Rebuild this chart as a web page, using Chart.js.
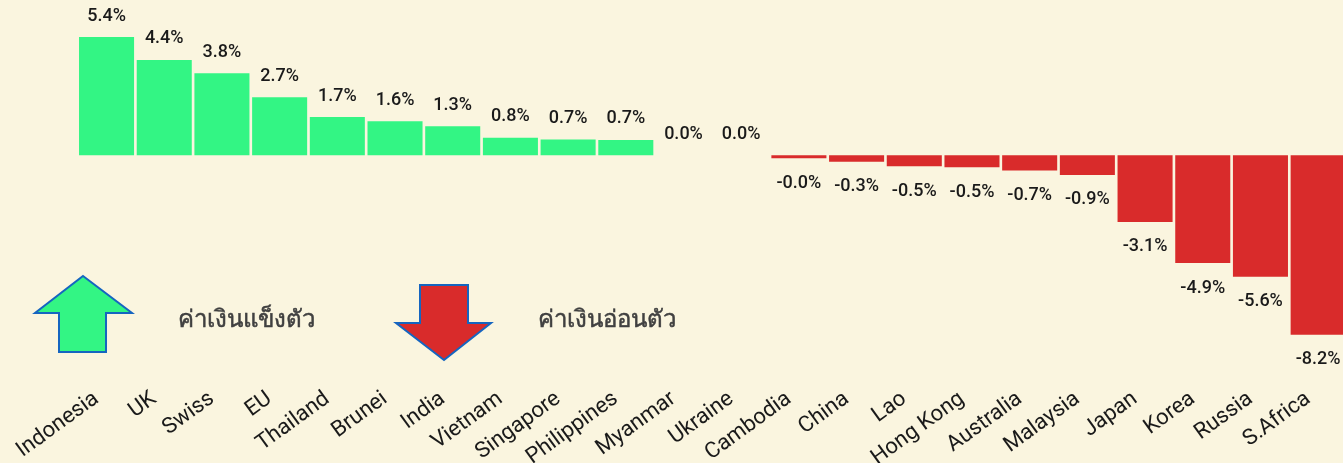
<!DOCTYPE html>
<html><head><meta charset="utf-8">
<script src="https://cdn.jsdelivr.net/npm/chart.js@4"></script>
<style>
html,body{margin:0;padding:0;background:#FAF5DF;overflow:hidden;width:1343px;height:463px}
#wrap{position:relative;width:1343px;height:463px;overflow:hidden}
canvas{position:absolute;left:0;top:0}
svg{position:absolute;left:0;top:0}
.t{position:absolute;top:300px;font:400 24px "Noto Sans","Noto Sans CJK SC",sans-serif;-webkit-text-stroke:0.5px #404040;color:#404040;white-space:nowrap;line-height:36px}
</style></head><body>
<div id="wrap">
<canvas id="c" width="1347" height="463"></canvas>
<svg width="1343" height="463">
<polygon points="83,276 132,313 106,313 106,352 59,352 59,313 35,313" fill="#33F584" stroke="#1565C0" stroke-width="2"/>
<polygon points="444,360 396,323 420,323 420,285 468,285 468,323 491,323" fill="#D92B2B" stroke="#1565C0" stroke-width="2"/>
</svg>
<div class="t" style="left:178px">ค่าเงินแข็งตัว</div>
<div class="t" style="left:538px">ค่าเงินอ่อนตัว</div>
</div>
<script>
const categories = ["Indonesia","UK","Swiss","EU","Thailand","Brunei","India","Vietnam","Singapore","Philippines","Myanmar","Ukraine","Cambodia","China","Lao","Hong Kong","Australia","Malaysia","Japan","Korea","Russia","S.Africa"];
const values = [5.4,4.35,3.75,2.65,1.74,1.55,1.32,0.8,0.72,0.7,0,0,-0.14,-0.3,-0.5,-0.55,-0.7,-0.9,-3.05,-4.93,-5.55,-8.2];
const valueLabels = ["5.4%","4.4%","3.8%","2.7%","1.7%","1.6%","1.3%","0.8%","0.7%","0.7%","0.0%","0.0%","-0.0%","-0.3%","-0.5%","-0.5%","-0.7%","-0.9%","-3.1%","-4.9%","-5.6%","-8.2%"];
const GREEN="#33F584", RED="#D92B2B";
const labelPlugin={id:"valueLabels",afterDatasetsDraw(chart){
  const ctx=chart.ctx, meta=chart.getDatasetMeta(0);
  ctx.save();
  ctx.font='500 18px Roboto';ctx.fillStyle="#1a1a1a";ctx.textAlign="center";ctx.textBaseline="middle";
  meta.data.forEach((el,i)=>{
    const neg=values[i]<0;
    ctx.fillText(valueLabels[i],el.x,el.y+(neg?25:-21));
  });
  ctx.restore();
}};
new Chart(document.getElementById("c"),{
  type:"bar",
  data:{labels:categories,datasets:[{data:values,
    backgroundColor:values.map(v=>v>=0?GREEN:RED),
    barPercentage:0.954,categoryPercentage:1,borderWidth:0}]},
  options:{responsive:false,animation:false,
    layout:{padding:{left:77.7,right:0,top:2,bottom:0}},
    plugins:{legend:{display:false},tooltip:{enabled:false}},
    scales:{
      x:{grid:{display:false},border:{display:false},
        ticks:{autoSkip:false,maxRotation:36,minRotation:36,color:"#1a1a1a",font:{family:"Roboto",size:22,weight:"400"},labelOffset:-10,padding:-7},
        afterFit(s){s.height=78;s.paddingLeft=0;s.paddingRight=0;}},
      y:{display:false,min:-10.5,max:7}
    }},
  plugins:[labelPlugin]
});
</script>
</body></html>
